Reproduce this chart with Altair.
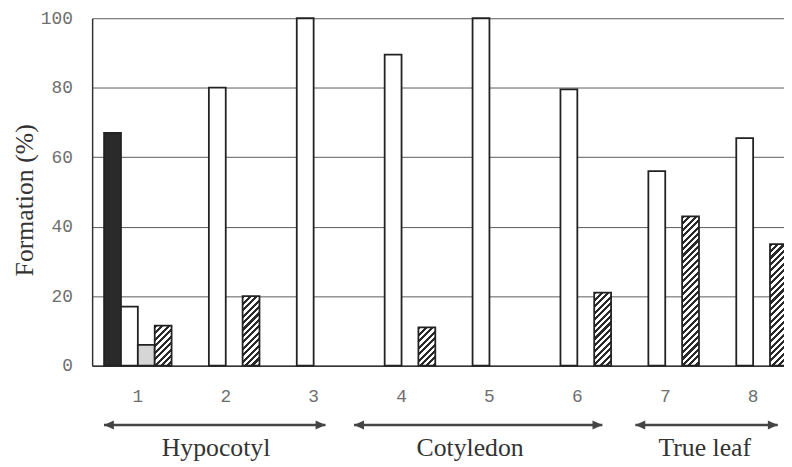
import math
import altair as alt
import pandas as pd

# ---------------- data ----------------
groups = ["1", "2", "3", "4", "5", "6", "7", "8"]
series_names = ["black", "white", "dotted", "hatched"]
black_vals = [67, None, None, None, None, None, None, None]
white_vals = [17, 80, 100, 89.5, 100, 79.5, 56, 65.5]
dotted_vals = [6, None, None, None, None, None, None, None]
hatched_vals = [11.5, 20, None, 11, None, 21, 43, 35]

regions = ["Hypocotyl", "Cotyledon", "True leaf"]
region_start = [0.615, 3.46, 6.66]
region_end = [3.135, 6.285, 8.28]
region_label_at = [1.89, 4.78, 7.45]

y_ticks = [0, 20, 40, 60, 80, 100]

# ---------------- layout / style ----------------
PLOT_W = 699
PLOT_H = 351
X_RANGE = 714
PAD_OUTER = 0.02
SLOT_PAD = 0.605
STEP = X_RANGE / (len(groups) + 2 * PAD_OUTER)
BAR_W = STEP / (len(series_names) + 2 * SLOT_PAD)
FIRST_CENTER = PAD_OUTER * STEP + STEP / 2
XQ_LO = 1 - FIRST_CENTER / STEP
XQ_HI = XQ_LO + PLOT_W / STEP

ARROW_Y = 411
LABEL_Y = 442
INK = "#2a2a2a"
SERIF = "Liberation Serif"
TICK_FONT = "Liberation Mono"
HATCH_PERIOD = 6.5
HATCH_DUTY = 0.48


def hatch(v):
    w = BAR_W
    h = v / 100.0 * PLOT_H
    a = w * (w + h) / (w * w + h * h)
    b = h * (w + h) / (w * w + h * h)
    L = w + h
    n = int(math.ceil(L / HATCH_PERIOD))
    stops = []
    for k in range(n):
        s = min(k * HATCH_PERIOD / L, 1)
        e = min((k + HATCH_DUTY) * HATCH_PERIOD / L, 1)
        f = min((k + 1) * HATCH_PERIOD / L, 1)
        stops += [
            {"offset": s, "color": INK},
            {"offset": e, "color": INK},
            {"offset": e, "color": "#ffffff"},
            {"offset": f, "color": "#ffffff"},
        ]
    return {"gradient": "linear", "x1": 0, "y1": 0, "x2": a, "y2": b, "stops": stops}


rows = []
for name, vals in zip(series_names, [black_vals, white_vals, dotted_vals, hatched_vals]):
    for g, v in zip(groups, vals):
        if v is not None:
            rows.append({"group": g, "series": name, "value": v})
df = pd.DataFrame(rows)

rdf = pd.DataFrame({"region": regions, "start": region_start, "end": region_end,
                    "label_x": region_label_at})

conds = [
    {"test": f"datum.group === '{g}' && datum.series === 'hatched'", "value": hatch(v)}
    for g, v in zip(groups, hatched_vals) if v is not None
]

bars = alt.Chart(df).mark_bar(stroke="#222222", strokeWidth=1.8).encode(
    x=alt.X("group:N", sort=groups,
            scale=alt.Scale(domain=groups, range=[0, X_RANGE], paddingInner=0, paddingOuter=PAD_OUTER),
            axis=alt.Axis(title=None, labelAngle=0, ticks=False, labelPadding=22,
                          labelFont=TICK_FONT, labelFontSize=18, labelColor="#6e6e6e",
                          domainColor="#333333", domainWidth=1.5, grid=False)),
    xOffset=alt.XOffset("series:N", sort=series_names,
                        scale=alt.Scale(domain=series_names, paddingInner=0, paddingOuter=SLOT_PAD)),
    y=alt.Y("value:Q", scale=alt.Scale(domain=[0, 100], nice=False),
            axis=alt.Axis(values=y_ticks, title="Formation (%)", grid=True, gridColor="#5a5a5a",
                          gridWidth=1, ticks=False, labelPadding=20, labelFont=TICK_FONT,
                          labelFontSize=18, labelColor="#6e6e6e", domainColor="#333333",
                          domainWidth=1.5, titleFont=SERIF, titleFontSize=26,
                          titleFontWeight="normal", titleColor="#333333", titleAngle=270,
                          titleAlign="center", titleBaseline="middle", titleX=-68, titleY=183.5)),
    fill=alt.Fill("series:N",
                  scale=alt.Scale(domain=series_names,
                                  range=[INK, "#ffffff", "#d6d6d6", "#ffffff"]),
                  legend=None, condition=conds),
)

xq = alt.Scale(domain=[XQ_LO, XQ_HI], nice=False, zero=False)

shaft = alt.Chart(rdf).mark_rule(color="#444444", strokeWidth=2.5).encode(
    x=alt.X("start:Q", scale=xq, axis=None),
    x2="end:Q",
    y=alt.value(ARROW_Y),
)
left_head = alt.Chart(rdf).mark_point(shape="M0,0L1,-0.45L1,0.45Z", filled=True, size=400,
                                      color="#444444", opacity=1).encode(
    x=alt.X("start:Q", scale=xq, axis=None),
    y=alt.value(ARROW_Y),
)
right_head = alt.Chart(rdf).mark_point(shape="M0,0L-1,-0.45L-1,0.45Z", filled=True, size=400,
                                       color="#444444", opacity=1).encode(
    x=alt.X("end:Q", scale=xq, axis=None),
    y=alt.value(ARROW_Y),
)
labels = alt.Chart(rdf).mark_text(font=SERIF, fontSize=26, color="#333333",
                                  baseline="alphabetic", align="center").encode(
    x=alt.X("label_x:Q", scale=xq, axis=None),
    y=alt.value(LABEL_Y),
    text="region:N",
)

chart = alt.layer(bars, shaft, left_head, right_head, labels).resolve_scale(
    x="independent"
).properties(
    width=PLOT_W,
    height=PLOT_H,
    autosize=alt.AutoSizeParams(type="none"),
    padding={"left": 85, "top": 8, "right": 0, "bottom": 96},
).configure_view(strokeWidth=0)

chart.save("out.html", embed_options={"renderer": "svg", "actions": False})
